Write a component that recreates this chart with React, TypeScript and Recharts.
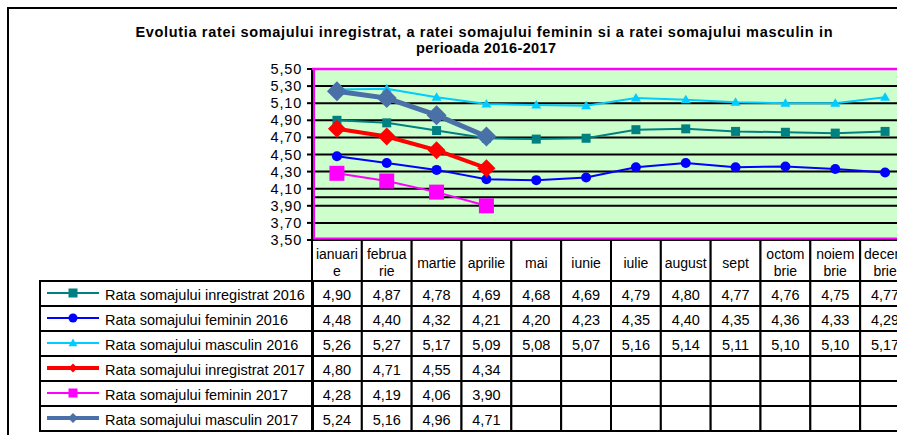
import React from "react";
import { LineChart, Line, XAxis, YAxis, CartesianGrid, ReferenceLine } from "recharts";

// categories and the labels shown in the header row (| = line break)
const months = [
  "ianuarie", "februarie", "martie", "aprilie", "mai", "iunie",
  "iulie", "august", "septembrie", "octombrie", "noiembrie", "decembrie",
];
const monthLabels = [
  "ianuari|e", "februa|rie", "martie", "aprilie", "mai", "iunie",
  "iulie", "august", "sept", "octom|brie", "noiem|brie", "decem|brie",
];
const yTicks = [3.5, 3.7, 3.9, 4.1, 4.3, 4.5, 4.7, 4.9, 5.1, 5.3, 5.5];

const inreg2016 = [4.9, 4.87, 4.78, 4.69, 4.68, 4.69, 4.79, 4.8, 4.77, 4.76, 4.75, 4.77];
const fem2016 = [4.48, 4.4, 4.32, 4.21, 4.2, 4.23, 4.35, 4.4, 4.35, 4.36, 4.33, 4.29];
const masc2016 = [5.26, 5.27, 5.17, 5.09, 5.08, 5.07, 5.16, 5.14, 5.11, 5.1, 5.1, 5.17];
const inreg2017 = [4.8, 4.71, 4.55, 4.34];
const fem2017 = [4.28, 4.19, 4.06, 3.9];
const masc2017 = [5.24, 5.16, 4.96, 4.71];

type Kind = "square" | "circle" | "triangle" | "diamond";

const series = [
  { key: "inreg2016", name: "Rata somajului inregistrat 2016", values: inreg2016, color: "#008080", width: 2, kind: "square" as Kind, size: 9, keySize: 9, keyWidth: 2 },
  { key: "fem2016", name: "Rata somajului feminin 2016", values: fem2016, color: "#0000FF", width: 2, kind: "circle" as Kind, size: 10, keySize: 9, keyWidth: 2 },
  { key: "masc2016", name: "Rata somajului masculin 2016", values: masc2016, color: "#00CCFF", width: 2, kind: "triangle" as Kind, size: 10, keySize: 9, keyWidth: 2 },
  { key: "inreg2017", name: "Rata somajului inregistrat 2017", values: inreg2017, color: "#FF0000", width: 4, kind: "diamond" as Kind, size: 18, keySize: 9, keyWidth: 4 },
  { key: "fem2017", name: "Rata somajului feminin 2017", values: fem2017, color: "#FF00FF", width: 2, kind: "square" as Kind, size: 15, keySize: 9, keyWidth: 2 },
  { key: "masc2017", name: "Rata somajului masculin 2017", values: masc2017, color: "#4A70A8", width: 5, kind: "diamond" as Kind, size: 20, keySize: 10, keyWidth: 4 },
];

const data = months.map((m, i) => {
  const row: Record<string, any> = { month: m };
  series.forEach((s) => {
    row[s.key] = s.values[i] ?? null;
  });
  return row;
});

const FONT = "'Liberation Sans', Arial, sans-serif";
const W = 930;
const H = 435;
const PLOT_L = 312;
const PLOT_R = 910;
const PLOT_T = 69;
const PLOT_B = 240;
const HEAD_H = 41;
const ROW_H = 25;
const HALF = (PLOT_R - PLOT_L) / 24;
const TABLE_L = 40;
const fmt = (v: number) => v.toFixed(2).replace(".", ",");

function marker(kind: Kind, cx: number, cy: number, size: number, color: string) {
  const h = size / 2;
  if (kind === "square") return <rect x={cx - h} y={cy - h} width={size} height={size} fill={color} />;
  if (kind === "circle") return <circle cx={cx} cy={cy} r={h} fill={color} />;
  if (kind === "triangle")
    return <polygon points={`${cx},${cy - h} ${cx + h},${cy + h * 0.7} ${cx - h},${cy + h * 0.7}`} fill={color} />;
  return <polygon points={`${cx},${cy - h} ${cx + h},${cy} ${cx},${cy + h} ${cx - h},${cy}`} fill={color} />;
}

// one column of the data table: header cell + a value cell per series
const TableColumn = (props: any) => {
  const { x, y, payload } = props;
  const i = payload.index;
  const lines = monthLabels[i].split("|");
  const left = x - HALF;
  return (
    <g>
      <rect x={left} y={y} width={HALF * 2} height={HEAD_H} fill="#fff" stroke="#000" strokeWidth={2} />
      {lines.length === 1 ? (
        <text x={x} y={y + 28} textAnchor="middle" fontSize={14} fontFamily={FONT} fill="#000">{lines[0]}</text>
      ) : (
        lines.map((t, k) => (
          <text key={k} x={x} y={y + 19 + k * 17} textAnchor="middle" fontSize={14} fontFamily={FONT} fill="#000">{t}</text>
        ))
      )}
      {series.map((s, r) => {
        const top = y + HEAD_H + r * ROW_H;
        const v = s.values[i];
        return (
          <g key={s.key}>
            <rect x={left} y={top} width={HALF * 2} height={ROW_H} fill="#fff" stroke="#000" strokeWidth={2} />
            {v != null && (
              <text x={x} y={top + 19} textAnchor="middle" fontSize={14.5} fontFamily={FONT} fill="#000">{fmt(v)}</text>
            )}
          </g>
        );
      })}
    </g>
  );
};

const YTick = (props: any) => {
  const { x, y, payload } = props;
  return (
    <text x={x} y={y + 5} textAnchor="end" fontSize={14.5} fontFamily={FONT} fill="#000" letterSpacing={0.8}>
      {fmt(payload.value)}
    </text>
  );
};

const makeDot = (s: (typeof series)[number]) => (p: any) => {
  if (p.cx == null || p.cy == null || p.value == null) return <g key={p.key ?? `${s.key}-${p.index}`} />;
  return <g key={p.key ?? `${s.key}-${p.index}`}>{marker(s.kind, p.cx, p.cy, s.size, s.color)}</g>;
};

export default function App() {
  const tableTop = PLOT_B + HEAD_H;
  return (
    <div style={{ position: "absolute", left: 0, top: 0, width: 897, height: 435, overflow: "hidden", background: "#fff" }}>
      <div style={{ position: "absolute", left: 0, top: 0 }}>
        <LineChart width={W} height={H} data={data} margin={{ top: PLOT_T, right: W - PLOT_R, bottom: H - PLOT_B - HEAD_H, left: 8 }}>
          <CartesianGrid vertical={false} stroke="#000" strokeWidth={2} fill="#CCFFCC" fillOpacity={1} />
          <ReferenceLine y={4.0} stroke="#000" strokeWidth={2} />
          <XAxis
            dataKey="month"
            padding={{ left: HALF, right: HALF }}
            axisLine={false}
            tickLine={false}
            tickSize={0}
            tickMargin={0}
            height={HEAD_H}
            interval={0}
            tick={TableColumn}
          />
          <YAxis
            type="number"
            domain={[3.5, 5.5]}
            ticks={yTicks}
            interval={0}
            width={PLOT_L - 8}
            axisLine={{ stroke: "#000", strokeWidth: 2 }}
            tickLine={{ stroke: "#000", strokeWidth: 2 }}
            tickSize={5}
            tickMargin={5}
            tick={YTick}
            allowDataOverflow
          />
          {series.map((s) => (
            <Line
              key={s.key}
              dataKey={s.key}
              name={s.name}
              type="linear"
              stroke={s.color}
              strokeWidth={s.width}
              dot={makeDot(s)}
              activeDot={false}
              connectNulls={false}
              isAnimationActive={false}
            />
          ))}
        </LineChart>
      </div>
      <svg width={W} height={H} style={{ position: "absolute", left: 0, top: 0, pointerEvents: "none" }}>
        {/* outer chart border */}
        <rect x={8} y={8} width={W} height={H} fill="none" stroke="#000" strokeWidth={2} />
        {/* title */}
        <text x={484} y={37} textAnchor="middle" fontSize={14.5} fontWeight="bold" fontFamily={FONT} fill="#000" textLength={697} lengthAdjust="spacing">
          Evolutia ratei somajului inregistrat, a ratei somajului feminin si a ratei somajului masculin in
        </text>
        <text x={486} y={53} textAnchor="middle" fontSize={14.5} fontWeight="bold" fontFamily={FONT} fill="#000" textLength={140} lengthAdjust="spacing">
          perioada 2016-2017
        </text>
        {/* magenta plot border */}
        <line x1={PLOT_L} y1={PLOT_T} x2={W} y2={PLOT_T} stroke="#FF00FF" strokeWidth={2.5} />
        <line x1={PLOT_L + 2} y1={PLOT_T} x2={PLOT_L + 2} y2={PLOT_B - 1} stroke="#FF00FF" strokeWidth={2} />
        <line x1={PLOT_L + 1} y1={PLOT_B - 1.5} x2={W} y2={PLOT_B - 1.5} stroke="#FF00FF" strokeWidth={2} />
        {/* legend column of the data table */}
        {series.map((s, r) => {
          const top = tableTop + r * ROW_H;
          const cy = top + 12;
          return (
            <g key={s.key}>
              <rect x={TABLE_L} y={top} width={PLOT_L + 1 - TABLE_L} height={ROW_H} fill="none" stroke="#000" strokeWidth={2} />
              <line x1={47} y1={cy} x2={99} y2={cy} stroke={s.color} strokeWidth={s.keyWidth} />
              {marker(s.kind, 73, cy, s.keySize, s.color)}
              <text x={105} y={top + 19} fontSize={14.5} fontFamily={FONT} fill="#000">{s.name}</text>
            </g>
          );
        })}
      </svg>
    </div>
  );
}
